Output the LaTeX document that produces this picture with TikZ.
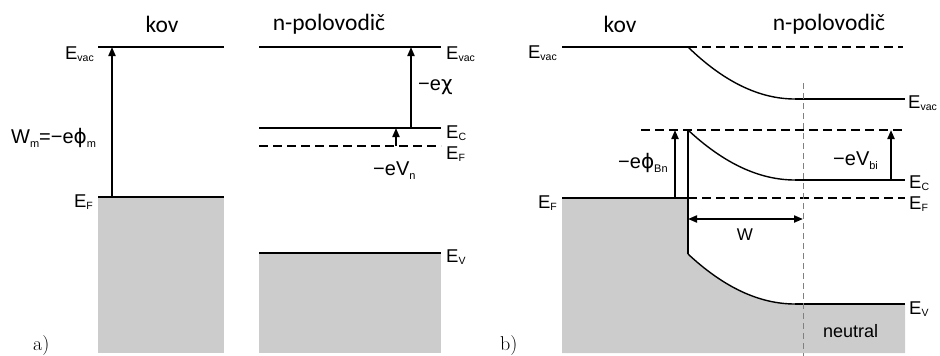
\documentclass[tikz,border=0pt]{standalone}
\usepackage{fontspec}
\setmainfont{Liberation Sans}
\newfontfamily\hdfont{Carlito}
\newfontfamily\grfont{DejaVu Sans}
\newfontfamily\lmfont{Latin Modern Roman}
\usetikzlibrary{arrows.meta}
\definecolor{bandgray}{HTML}{CCCCCC}
\newcommand\sbs[1]{\raisebox{-0.15em}{\fontsize{10.5}{10.5}\selectfont #1}}
\newcommand\qsb[1]{\raisebox{-0.2em}{\fontsize{11}{11}\selectfont #1}}
\begin{document}
\begin{tikzpicture}[x=1pt,y=-1pt,
  thickline/.style={line width=2.4pt},
  thinline/.style={line width=1.4pt},
  flatline/.style={line width=2pt},
  dashline/.style={line width=2.2pt, dash pattern=on 9pt off 5pt},
  guide/.style={draw=gray, line width=0.8pt, dash pattern=on 6pt off 4pt},
  uparrow/.style={line width=2pt, -{Triangle[length=9pt,width=7pt]}},
  dblarrow/.style={line width=2pt, {Triangle[length=9pt,width=7pt]}-{Triangle[length=9pt,width=7pt]}},
  lvl/.style={font=\fontsize{18.5}{18.5}\selectfont, inner sep=0pt},
  qty/.style={font=\fontsize{20}{20}\selectfont, inner sep=0pt},
  head/.style={font=\hdfont\fontsize{23.5}{24}\selectfont, inner sep=0pt},
  panel/.style={font=\lmfont\fontsize{20}{20}\selectfont, inner sep=0pt}]
\useasboundingbox (0,0) rectangle (940,356);

% ---------------- panel a ----------------
\fill[bandgray] (98,197) rectangle (224,353);
\fill[bandgray] (259,253) rectangle (441,353);
\draw[thickline] (98,47) -- (224,47);
\draw[thickline] (98,197) -- (224,197);
\draw[thickline] (259,47) -- (441,47);
\draw[thinline] (259,128) -- (441,128);
\draw[dashline] (259,146) -- (441,146);
\draw[thickline] (259,253) -- (441,253);

\coordinate (aMF) at (112,197);
\coordinate (aMV) at (112,47);
\coordinate (aSCx) at (411,128);
\coordinate (aSVx) at (411,47);
\coordinate (aSFn) at (396,146);
\coordinate (aSCn) at (396,128);
\draw[uparrow] (aMF) -- (aMV);
\draw[uparrow] (aSCx) -- (aSVx);
\draw[uparrow] (aSFn) -- (aSCn);

\node[head] (akov) at (162,24) {kov};
\node[head] (apol) at (329,24) {n-polovodič};
\node[lvl, anchor=base east] (aEvacL) at (94,59) {E\sbs{vac}};
\node[lvl, anchor=base east] (aEFL) at (93,207) {E\sbs{F}};
\node[lvl, anchor=base west] (aEvacR) at (446,59) {E\sbs{vac}};
\node[lvl, anchor=base west] (aECR) at (446,138) {E\sbs{C}};
\node[lvl, anchor=base west] (aEFR) at (446,159) {E\sbs{F}};
\node[lvl, anchor=base west] (aEVR) at (446,262) {E\sbs{V}};
\node[qty, anchor=base west] (aWm) at (11,143) {W\qsb{m}=−e{\grfont ϕ}\qsb{m}};
\node[qty, anchor=base west] (achi) at (418,90) {−e{\grfont χ}};
\node[qty, anchor=base west] (aVn) at (373,175) {−eV\qsb{n}};
\node[panel, anchor=base west] (alab) at (33,350) {a)};

% ---------------- panel b ----------------
\fill[bandgray] (562,198) -- (688,198) -- (688,254)
   .. controls (723.7,287.3) and (759.3,304) .. (795,304)
   -- (905,304) -- (905,353) -- (562,353) -- cycle;

\coordinate (bI1) at (688,47);
\coordinate (bV1) at (795,99);
\coordinate (bI2) at (688,130);
\coordinate (bC1) at (795,180);
\coordinate (bI3) at (688,254);
\coordinate (bE1) at (795,304);

\draw[flatline] (562,47) -- (bI1);
\draw[dashline, line width=1.8pt] (bI1) -- (903,47);
\draw[thinline] (bI1) .. controls (723.7,81.7) and (759.3,99) .. (bV1);
\draw[flatline] (bV1) -- (905,99);
\draw[dashline, line width=2pt] (641,130) -- (906,130);
\draw[thinline] (bI2) .. controls (723.7,163.3) and (759.3,180) .. (bC1);
\draw[flatline] (bC1) -- (905,180);
\draw[thinline] (bI3) .. controls (723.7,287.3) and (759.3,304) .. (bE1);
\draw[flatline] (bE1) -- (905,304);
\draw[flatline] (562,198) -- (688,198);
\draw[dashline, line width=1.6pt] (688,198) -- (905,198);
\draw[line width=2pt] (bI2) -- (bI3);

\coordinate (bGtop) at (803,83);
\coordinate (bGbot) at (803,356);
\draw[guide] (bGtop) -- (bGbot);

\coordinate (bPF) at (675,198);
\coordinate (bPT) at (675,130);
\draw[uparrow] (bPF) -- (bPT);
\coordinate (bBF) at (891,180);
\coordinate (bBT) at (891,130);
\draw[uparrow] (bBF) -- (bBT);
\coordinate (bWl) at (688,219);
\coordinate (bWr) at (803,219);
\draw[dblarrow] (bWl) -- (bWr);

\node[head] (bkov) at (620,24) {kov};
\node[head] (bpol) at (829,24) {n-polovodič};
\node[lvl, anchor=base east] (bEvacL) at (557,58) {E\sbs{vac}};
\node[lvl, anchor=base east] (bEFL) at (557,208) {E\sbs{F}};
\node[lvl, anchor=base west] (bEvacR) at (908,108) {E\sbs{vac}};
\node[lvl, anchor=base west] (bECR) at (909,188) {E\sbs{C}};
\node[lvl, anchor=base west] (bEFR) at (909,209) {E\sbs{F}};
\node[lvl, anchor=base west] (bEVR) at (909,314) {E\sbs{V}};
\node[qty, anchor=base west] (bphi) at (618,168) {−e{\grfont ϕ}\qsb{Bn}};
\node[qty, anchor=base west] (bVbi) at (833,165) {−eV\qsb{bi}};
\node[font=\fontsize{17}{17}\selectfont, inner sep=0pt, anchor=base] (bW) at (745,240) {W};
\node[font=\fontsize{18}{18}\selectfont, inner sep=0pt, anchor=base west] (bneu) at (823,337) {neutral};
\node[panel, anchor=base west] (blab) at (500,350) {b)};
\end{tikzpicture}
\end{document}
